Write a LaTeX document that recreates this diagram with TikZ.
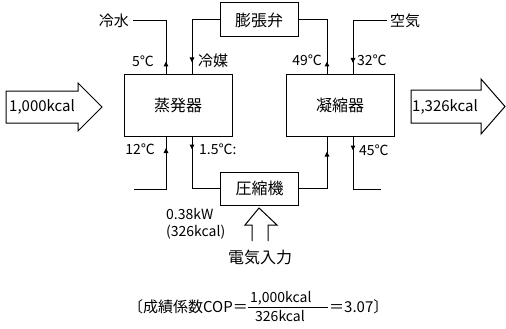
\documentclass[tikz,border=0pt]{standalone}
\usepackage{fontspec}
\setmainfont{Noto Sans CJK JP}
\usetikzlibrary{arrows.meta,decorations.markings}
\tikzset{
  box/.style={draw, line width=1pt, inner sep=0pt, font=\fontsize{16}{18}\selectfont},
  pipe/.style={draw, line width=1pt},
  flowmark/.style={decoration={markings, mark=at position #1 with {\arrow{Triangle[length=5pt,width=4.5pt]}}}, postaction={decorate}},
  lbl/.style={inner sep=0pt, font=\fontsize{14}{16}\selectfont},
  big/.style={draw, line width=1pt, fill=white, line join=miter},
}
\begin{document}
\begin{tikzpicture}[x=1pt,y=-1pt]
\useasboundingbox (0,0) rectangle (506,329);
% boxes
\node[box, minimum width=108pt, minimum height=61pt] (evap) at (178,105.5) {蒸発器};
\node[box, minimum width=108pt, minimum height=61pt] (cond) at (340,105.5) {凝縮器};
\node[box, minimum width=78pt, minimum height=34pt] (exp) at (259,20) {膨張弁};
\node[box, minimum width=78pt, minimum height=33pt] (comp) at (259.5,188.5) {圧縮機};
% free ends
\coordinate (cwA) at (133,21);
\coordinate (cwB) at (134,189);
\coordinate (airA) at (387,21);
\coordinate (airB) at (381,189);
% cold water
\draw[pipe, flowmark=13pt] ([xshift=-12pt]evap.north) -- ([xshift=-12pt]evap.north |- cwA) -- (cwA);
\draw[pipe, flowmark=73pt] (cwB) -- ([xshift=-12pt]evap.south |- cwB) -- ([xshift=-12pt]evap.south);
% refrigerant
\draw[pipe, flowmark=70pt] (exp.west) -- ([xshift=14pt]evap.north |- exp.west) -- ([xshift=14pt]evap.north);
\draw[pipe, flowmark=13pt] ([xshift=14pt]evap.south) -- ([xshift=14pt]evap.south |- comp.west) -- (comp.west);
\draw[pipe, flowmark=65pt] (comp.east) -- ([xshift=-13pt]cond.south |- comp.east) -- ([xshift=-13pt]cond.south);
\draw[pipe, flowmark=13pt] ([xshift=-13pt]cond.north) -- ([xshift=-13pt]cond.north |- exp.east) -- (exp.east);
% air
\draw[pipe, flowmark=76pt] (airA) -- ([xshift=13pt]cond.north |- airA) -- ([xshift=13pt]cond.north);
\draw[pipe, flowmark=14pt] ([xshift=13pt]cond.south) -- ([xshift=13pt]cond.south |- airB) -- (airB);
% labels
\node[lbl, anchor=east, font=\fontsize{15}{17}\selectfont] (lcw) at (129,21) {冷水};
\node[lbl, anchor=west, font=\fontsize{15}{17}\selectfont] (lair) at (390,21) {空気};
\node[lbl, anchor=east] (l5) at (154,61) {5℃};
\node[lbl, anchor=west, font=\fontsize{15}{17}\selectfont] (lref) at (198,61) {冷媒};
\node[lbl, anchor=east] (l12) at (155,149) {12℃};
\node[lbl, anchor=west] (l15) at (199,149) {1.5℃:};
\node[lbl, anchor=east] (l49) at (322,60) {49℃};
\node[lbl, anchor=west] (l32) at (357,60) {32℃};
\node[lbl, anchor=west] (l45) at (359,150) {45℃};
% big arrows
\draw[big] (6,91) -- (78,91) -- (78,83) -- (102,107) -- (78,131) -- (78,123) -- (6,123) -- cycle;
\node[lbl, font=\fontsize{15}{17}\selectfont] (qin) at (42,107) {1,000kcal};
\draw[big] (411,90) -- (481,90) -- (481,79) -- (505,106.5) -- (481,134) -- (481,123) -- (411,123) -- cycle;
\node[lbl, font=\fontsize{15}{17}\selectfont] (qout) at (445,107) {1,326kcal};
\draw[big] (252,241) -- (252,225) -- (245,225) -- (259,208) -- (277,225) -- (268,225) -- (268,241);
\node[lbl, anchor=west, align=left, font=\fontsize{14}{17}\selectfont] (pw) at (166,224) {0.38kW\\(326kcal)};
\node[lbl, font=\fontsize{16}{18}\selectfont] (elec) at (260,257) {電気入力};
% COP
\node[lbl, anchor=east, font=\fontsize{15}{17}\selectfont] (cop) at (248,307) {〔成績係数COP＝};
\node[lbl, anchor=south west, font=\fontsize{14}{16}\selectfont] (num) at (250,305) {1,000kcal};
\node[lbl, anchor=north, font=\fontsize{14}{16}\selectfont] (den) at (280,310) {326kcal};
\draw[line width=1pt] (cop.east |- 0,307.5) -- (328,307.5);
\node[lbl, anchor=west, font=\fontsize{15}{17}\selectfont] (res) at (329,307) {＝3.07〕};
\end{tikzpicture}
\end{document}
